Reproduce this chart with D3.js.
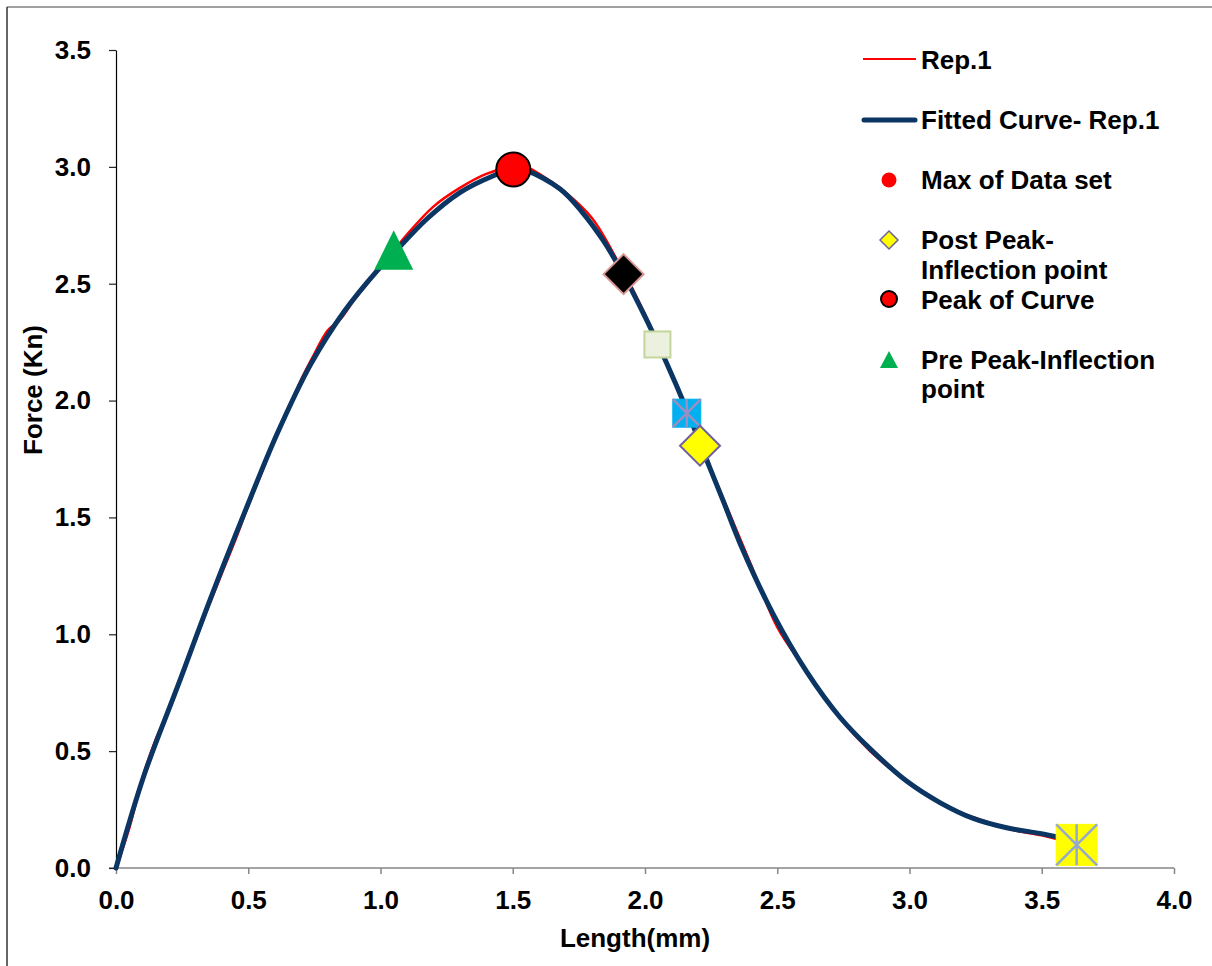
<!DOCTYPE html>
<html>
<head>
<meta charset="utf-8">
<script src="https://cdn.jsdelivr.net/npm/d3@7"></script>
<style>
  html, body { margin: 0; padding: 0; background: #fff; }
  svg { display: block; font-family: "Liberation Sans", Arial, sans-serif; }
</style>
</head>
<body>
<svg id="chart" width="1212" height="966"></svg>
<script>
// ---------- data ----------
const xTicks = [0, 0.5, 1.0, 1.5, 2.0, 2.5, 3.0, 3.5, 4.0];
const yTicks = [0, 0.5, 1.0, 1.5, 2.0, 2.5, 3.0, 3.5];

// raw test data (Rep.1)
const rep1X = [0, 0.05, 0.1, 0.15, 0.2, 0.25, 0.3, 0.35, 0.4, 0.45, 0.5, 0.55, 0.6, 0.65, 0.7, 0.75, 0.8, 0.85, 0.9, 0.95, 1.0, 1.1, 1.2, 1.3, 1.4, 1.5, 1.55, 1.6, 1.7, 1.8, 1.9, 2.0, 2.05, 2.1, 2.2, 2.3, 2.4, 2.5, 2.6, 2.7, 2.8, 2.9, 3.0, 3.1, 3.2, 3.3, 3.4, 3.5, 3.6];
const rep1Y = [0, 0.17, 0.385, 0.55, 0.68, 0.83, 0.975, 1.12, 1.26, 1.40, 1.55, 1.69, 1.83, 1.96, 2.09, 2.20, 2.30, 2.35, 2.43, 2.50, 2.57, 2.71, 2.83, 2.91, 2.97, 3.00, 3.00, 2.97, 2.89, 2.78, 2.59, 2.37, 2.24, 2.11, 1.84, 1.57, 1.30, 1.03, 0.86, 0.70, 0.56, 0.45, 0.365, 0.29, 0.235, 0.195, 0.16, 0.14, 0.11];

// fitted curve
const fitX = [0, 0.107, 0.233, 0.358, 0.484, 0.61, 0.736, 0.862, 0.987, 1.048, 1.175, 1.30, 1.427, 1.50, 1.553, 1.679, 1.76, 1.842, 1.918, 2.006, 2.082, 2.158, 2.246, 2.296, 2.359, 2.485, 2.611, 2.737, 2.863, 2.989, 3.115, 3.241, 3.367, 3.493, 3.556, 3.60];
const fitY = [0, 0.40, 0.777, 1.155, 1.515, 1.86, 2.155, 2.38, 2.555, 2.628, 2.777, 2.89, 2.962, 2.99, 2.983, 2.905, 2.81, 2.685, 2.54, 2.345, 2.16, 1.96, 1.71, 1.57, 1.39, 1.085, 0.84, 0.645, 0.497, 0.372, 0.280, 0.212, 0.172, 0.148, 0.133, 0.118];

// special points
const maxData = [1.50, 2.99];
const peakCurve = [1.502, 2.989];
const prePeak = [1.05, 2.643];
const postPeak = [2.208, 1.807];
const blackDiamond = [1.919, 2.541];
const lightSquare = [2.047, 2.24];
const blueStarSquare = [2.158, 1.946];
const yellowStarSquare = [3.632, 0.099];

const legendLabels = ["Rep.1", "Fitted Curve- Rep.1", "Max of Data set", ["Post Peak-", "Inflection point"], "Peak of Curve", ["Pre Peak-Inflection", "point"]];

// ---------- drawing ----------
const svg = d3.select("#chart");
const x = d3.scaleLinear().domain([0, 4]).range([116, 1174]);
const y = d3.scaleLinear().domain([0, 3.5]).range([868, 50]);

// outer frame lines
svg.append("line").attr("x1", 7).attr("x2", 1212).attr("y1", 7).attr("y2", 7).attr("stroke", "#808080").attr("stroke-width", 1.5);
svg.append("line").attr("x1", 7).attr("x2", 7).attr("y1", 7).attr("y2", 966).attr("stroke", "#333").attr("stroke-width", 1.5);

const tickFont = "26px";

// x axis
const xAxis = svg.append("g").attr("transform", "translate(0,868)")
  .call(d3.axisBottom(x).tickValues(xTicks).tickFormat(d3.format(".1f")).tickSize(6).tickSizeOuter(0).tickPadding(17));
xAxis.select(".domain").attr("stroke", "#868686").attr("stroke-width", 1.5).attr("d", "M109,0H1174");
xAxis.selectAll(".tick line").attr("stroke", "#868686").attr("stroke-width", 1.5);
xAxis.selectAll(".tick text").attr("fill", "#000").style("font-size", tickFont).style("font-weight", "bold").style("font-family", "Liberation Sans, Arial, sans-serif");

// y axis
const yAxis = svg.append("g").attr("transform", "translate(116,0)")
  .call(d3.axisLeft(y).tickValues(yTicks).tickFormat(d3.format(".1f")).tickSize(7).tickSizeOuter(0).tickPadding(18));
yAxis.select(".domain").attr("stroke", "#000").attr("stroke-width", 1.2);
yAxis.selectAll(".tick line").attr("stroke", "#222").attr("stroke-width", 1.2);
yAxis.selectAll(".tick text").attr("fill", "#000").style("font-size", tickFont).style("font-weight", "bold").style("font-family", "Liberation Sans, Arial, sans-serif");

// axis titles
svg.append("text").attr("x", 635).attr("y", 947).attr("text-anchor", "middle")
  .style("font-size", "26px").style("font-weight", "bold").text("Length(mm)");
svg.append("text").attr("transform", "translate(42,390) rotate(-90)").attr("text-anchor", "middle")
  .style("font-size", "26px").style("font-weight", "bold").text("Force (Kn)");

// lines
const rep1 = rep1X.map((v, i) => [v, rep1Y[i]]);
const fit = fitX.map((v, i) => [v, fitY[i]]);
const line = d3.line().x(d => x(d[0])).y(d => y(d[1])).curve(d3.curveCatmullRom.alpha(0.5));

svg.append("path").datum(rep1).attr("d", line).attr("fill", "none").attr("stroke", "#FF0000").attr("stroke-width", 2.5);
svg.append("path").datum(fit).attr("d", line).attr("fill", "none").attr("stroke", "#0B3563").attr("stroke-width", 5).attr("stroke-linecap", "round");

// markers
const g = svg.append("g");
function starSquare(pt, size, fill, stroke, lineCol) {
  const cx = x(pt[0]), cy = y(pt[1]), h = size / 2;
  g.append("rect").attr("x", cx - h).attr("y", cy - h).attr("width", size).attr("height", size)
    .attr("fill", fill).attr("stroke", stroke).attr("stroke-width", 1);
  g.append("path").attr("d", `M${cx},${cy - h}V${cy + h}M${cx - h},${cy - h}L${cx + h},${cy + h}M${cx + h},${cy - h}L${cx - h},${cy + h}`)
    .attr("stroke", lineCol).attr("stroke-width", 2.5).attr("fill", "none");
}
function diamond(pt, d, fill, stroke) {
  const cx = x(pt[0]), cy = y(pt[1]), h = d / 2;
  g.append("path").attr("d", `M${cx},${cy - h}L${cx + h},${cy}L${cx},${cy + h}L${cx - h},${cy}Z`)
    .attr("fill", fill).attr("stroke", stroke).attr("stroke-width", 2);
}
// max of data set (hidden under peak circle)
g.append("circle").attr("cx", x(maxData[0])).attr("cy", y(maxData[1])).attr("r", 8).attr("fill", "#FF0000");
// black diamond
diamond(blackDiamond, 40, "#000000", "#D99694");
// light green square
g.append("rect").attr("x", x(lightSquare[0]) - 13).attr("y", y(lightSquare[1]) - 13).attr("width", 26).attr("height", 26)
  .attr("fill", "#EBF1DE").attr("stroke", "#C3D69B").attr("stroke-width", 2);
// blue star square
starSquare(blueStarSquare, 28, "#00B0F0", "#00B0F0", "#9C8EC0");
// post peak diamond
diamond(postPeak, 40, "#FFFF00", "#7060A0");
// yellow star square
starSquare(yellowStarSquare, 41, "#FFFF00", "#FFFF00", "#95A8D0");
// peak of curve
g.append("circle").attr("cx", x(peakCurve[0])).attr("cy", y(peakCurve[1])).attr("r", 17)
  .attr("fill", "#FF0000").attr("stroke", "#000").attr("stroke-width", 2);
// pre peak triangle
{
  const cx = x(prePeak[0]), cy = y(prePeak[1]);
  g.append("path").attr("d", `M${cx},${cy - 20}L${cx + 19.5},${cy + 19.5}L${cx - 19.5},${cy + 19.5}Z`).attr("fill", "#00B050");
}

// legend
const lg = svg.append("g").style("font-size", "26px").style("font-weight", "bold");
const tx = 921;
lg.append("line").attr("x1", 863).attr("x2", 916).attr("y1", 59).attr("y2", 59).attr("stroke", "#FF0000").attr("stroke-width", 2);
lg.append("line").attr("x1", 864).attr("x2", 915).attr("y1", 120).attr("y2", 120).attr("stroke", "#0B3563").attr("stroke-width", 5).attr("stroke-linecap", "round");
lg.append("circle").attr("cx", 889).attr("cy", 180).attr("r", 7.5).attr("fill", "#FF0000");
lg.append("path").attr("d", "M889,231L898,240L889,249L880,240Z").attr("fill", "#FFFF00").attr("stroke", "#7060A0").attr("stroke-width", 1.5);
lg.append("circle").attr("cx", 889).attr("cy", 299).attr("r", 8).attr("fill", "#FF0000").attr("stroke", "#000").attr("stroke-width", 2);
lg.append("path").attr("d", "M889,351L898,368L880,368Z").attr("fill", "#00B050");

const rows = [[legendLabels[0], 69], [legendLabels[1], 129], [legendLabels[2], 189], [legendLabels[3][0], 249], [legendLabels[3][1], 279], [legendLabels[4], 309], [legendLabels[5][0], 369], [legendLabels[5][1], 398]];
rows.forEach(([t, yy]) => lg.append("text").attr("x", tx).attr("y", yy).text(t));
</script>
</body>
</html>
